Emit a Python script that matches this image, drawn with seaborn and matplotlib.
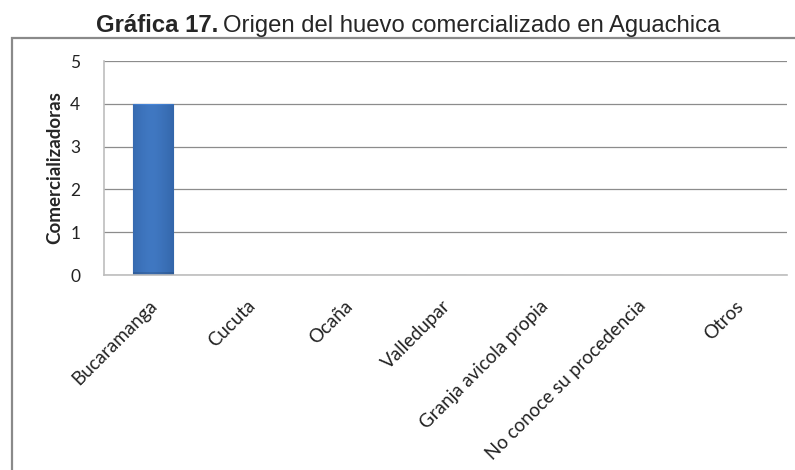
import matplotlib
matplotlib.use("Agg")
import matplotlib.pyplot as plt
import matplotlib.transforms as mtrans
import seaborn as sns
import numpy as np
import pandas as pd
from matplotlib.patches import Rectangle

categories = ["Bucaramanga", "Cucuta", "Ocaña", "Valledupar", "Granja avicola propia",
              "No conoce su procedencia", "Otros"]
values = [4, 0, 0, 0, 0, 0, 0]
yticks = [0, 1, 2, 3, 4, 5]

sns.set_theme(style="white")
plt.rcParams['font.family'] = ['Lato', 'DejaVu Sans']

df = pd.DataFrame({"origen": categories, "n": values})

fig = plt.figure(figsize=(7.95, 4.70), dpi=100)
ax = fig.add_axes([104/795, 1-275/470, (787-104)/795, (275-61)/470])

sns.barplot(data=df, x="origen", y="n", ax=ax, color="#3B6EB5", width=0.41,
            edgecolor="#2A5797", linewidth=0.8, saturation=1)

# subtle gradient on bars
for p in ax.patches:
    h = p.get_height()
    if h <= 0:
        continue
    x0, w = p.get_x(), p.get_width()
    nr, nc = 170, 40
    img = np.zeros((nr, nc, 3))
    base = np.array([0x40, 0x78, 0xC2]) / 255
    dark = np.array([0x2A, 0x58, 0x98]) / 255
    for j in range(nc):
        tx = abs(j / (nc - 1) - 0.45) / 0.55
        t = 0.55 * tx ** 1.5
        img[:, j, :] = base * (1 - t) + dark * t
    img[-3:, :, :] *= 0.88
    img[:2, :, :] = np.clip(img[:2, :, :] * 1.12, 0, 1)
    im = ax.imshow(img, extent=[x0, x0 + w, 0, h], aspect="auto", zorder=p.get_zorder() + 0.1)
    im.set_clip_path(p)

ax.set_xlim(-0.5, len(categories) - 0.5)
ax.set_ylim(0, 5)
ax.set_yticks(yticks)
ax.set_yticklabels([str(v) for v in yticks], fontsize=12.5, color="#222222")
ax.grid(axis="y", color="#8C8C8C", linewidth=0.9)
ax.set_axisbelow(True)
for s in ["top", "right"]:
    ax.spines[s].set_visible(False)
for s in ["left", "bottom"]:
    ax.spines[s].set_color("#BDBDBD")
    ax.spines[s].set_linewidth(1.2)
ax.tick_params(axis="y", length=0, pad=17)
ax.tick_params(axis="x", length=0, pad=16)
ax.set_xticks(range(len(categories)))
ax.set_xticklabels(categories, rotation=45, ha="right", rotation_mode="anchor",
                   fontsize=13.5, color="#222222")
offset = mtrans.ScaledTranslation(-4/100, 0, fig.dpi_scale_trans)
for lab in ax.get_xticklabels():
    lab.set_transform(lab.get_transform() + offset)
ax.set_xlabel("")
ax.set_ylabel("Comercializadoras", fontsize=13.5, fontweight="bold", labelpad=5)

# outer border
fig.patches.append(Rectangle((12/795, -0.1), 1.2, 1 - 38/470 + 0.1, transform=fig.transFigure,
                             fill=False, edgecolor="#8A8A8A", linewidth=1.6))

t1 = fig.text(96/795, 1 - 32/470, "Gráfica 17.", fontsize=17.2, fontweight="bold",
              family=["Liberation Sans", "DejaVu Sans"], va="baseline", ha="left")
fig.canvas.draw()
bb = t1.get_window_extent()
fig.text((bb.x1 + 5) / 795, 1 - 32/470, "Origen del huevo comercializado en Aguachica",
         fontsize=17.2, family=["Liberation Sans", "DejaVu Sans"], va="baseline", ha="left")

fig.savefig("out.png", dpi=100)
